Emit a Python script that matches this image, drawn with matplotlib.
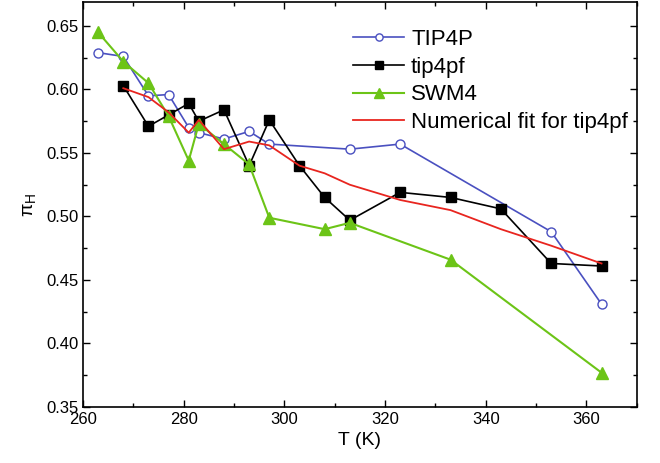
import matplotlib
matplotlib.use("Agg")
import matplotlib.pyplot as plt
from matplotlib.ticker import MultipleLocator

# data
t_tip4p = [263, 268, 273, 277, 281, 283, 288, 293, 297, 313, 323, 353, 363]
pi_tip4p = [0.629, 0.626, 0.595, 0.596, 0.570, 0.566, 0.561, 0.567, 0.557, 0.553, 0.557, 0.488, 0.431]

t_tip4pf = [268, 273, 277, 281, 283, 288, 293, 297, 303, 308, 313, 323, 333, 343, 353, 363]
pi_tip4pf = [0.603, 0.571, 0.580, 0.589, 0.575, 0.584, 0.540, 0.576, 0.540, 0.515, 0.497,
             0.519, 0.515, 0.506, 0.463, 0.461]

t_swm4 = [263, 268, 273, 277, 281, 283, 288, 293, 297, 308, 313, 333, 363]
pi_swm4 = [0.645, 0.622, 0.605, 0.579, 0.544, 0.573, 0.557, 0.541, 0.499, 0.490, 0.495, 0.466, 0.377]

fit_tip4pf = [0.601, 0.594, 0.582, 0.566, 0.576, 0.553, 0.559, 0.556, 0.540, 0.534, 0.525,
              0.513, 0.505, 0.490, 0.477, 0.463]

plt.rcParams['font.family'] = ['Liberation Sans', 'DejaVu Sans']
plt.rcParams['mathtext.fontset'] = 'custom'
plt.rcParams['mathtext.rm'] = 'Liberation Sans'
plt.rcParams['mathtext.it'] = 'Liberation Sans'

fig = plt.figure(figsize=(6.6, 4.63), dpi=100)
ax = fig.add_axes([0.1258, 0.121, 0.839, 0.875])

ax.plot(t_tip4p, pi_tip4p, color='#4a50c0', lw=1.2, marker='o', ms=6.5,
        mfc='white', mec='#4a50c0', mew=1.0, label='TIP4P')
ax.plot(t_tip4pf, pi_tip4pf, color='black', lw=1.2, marker='s', ms=7,
        label='tip4pf')
ax.plot(t_swm4, pi_swm4, color='#6cc417', lw=1.5, marker='^', ms=8.5,
        label='SWM4')
ax.plot(t_tip4pf, fit_tip4pf, color='#e8251f', lw=1.3, label='Numerical fit for tip4pf')

ax.set_xlim(260, 370)
ax.set_ylim(0.35, 0.669)
ax.xaxis.set_major_locator(MultipleLocator(20))
ax.xaxis.set_minor_locator(MultipleLocator(10))
ax.yaxis.set_major_locator(MultipleLocator(0.05))
ax.yaxis.set_minor_locator(MultipleLocator(0.025))
ax.yaxis.set_major_formatter(plt.FormatStrFormatter('%.2f'))
ax.tick_params(which='both', direction='in', top=True, right=True, labelsize=12)
ax.tick_params(which='major', length=5, width=1)
ax.tick_params(which='minor', length=3, width=1)
for s in ax.spines.values():
    s.set_linewidth(1.2)

ax.set_xlabel('T (K)', fontsize=14, labelpad=4)
ax.set_ylabel(r'$\mathrm{\pi_H}$', fontsize=14, labelpad=6)

ax.legend(loc='upper right', frameon=False, fontsize=16, handlelength=2.3,
          labelspacing=0.3, handletextpad=0.3, borderaxespad=0, markerscale=0.8,
          bbox_to_anchor=(1.0, 0.955))

fig.savefig('out.png', dpi=100)
